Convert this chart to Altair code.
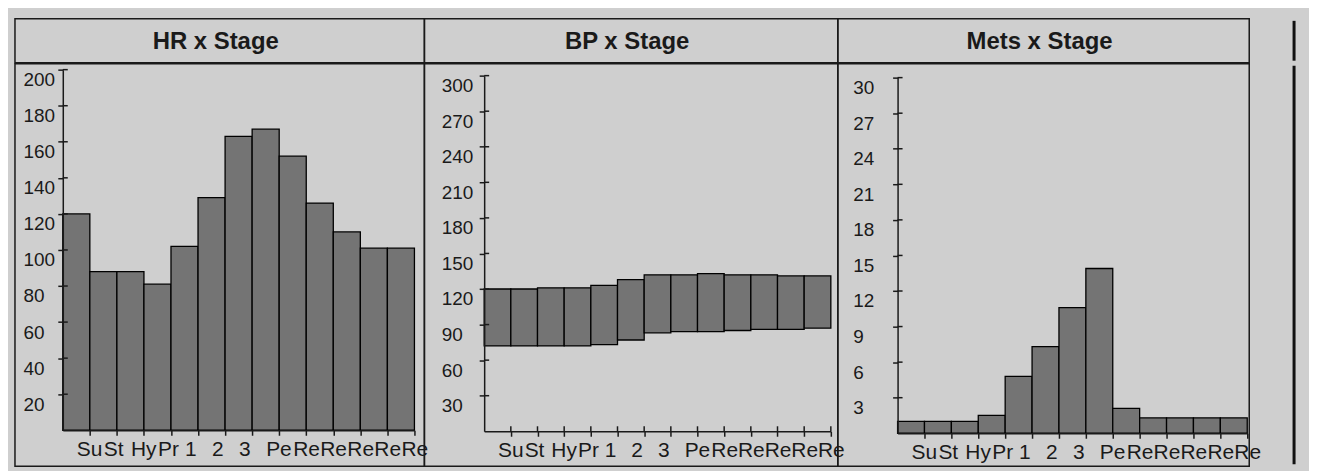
import json
import altair as alt
import pandas as pd

# ---------------- data ----------------
stages = ["Su", "St", "Hy", "Pr", "1", "2", "3", "Pe", "Re", "Re", "Re", "Re", "Re"]
titles = ["HR x Stage", "BP x Stage", "Mets x Stage"]
hr = [120, 88, 88, 81, 102, 129, 163, 167, 152, 126, 110, 101, 101]
bp_high = [120, 120, 121, 121, 123, 128, 132, 132, 133, 132, 132, 131, 131]
bp_low = [72, 72, 72, 72, 73, 77, 83, 84, 84, 85, 86, 86, 87]
mets = [1.0, 1.0, 1.0, 1.5, 4.8, 7.3, 10.6, 13.9, 2.1, 1.3, 1.3, 1.3, 1.3]
hr_ticks = [20, 40, 60, 80, 100, 120, 140, 160, 180, 200]
bp_ticks = [30, 60, 90, 120, 150, 180, 210, 240, 270, 300]
mets_ticks = [3, 6, 9, 12, 15, 18, 21, 24, 27, 30]

# ---------------- style ----------------
FONT = "Liberation Sans"
INK = "#1a1a1a"
BAR = "#747474"
BG = "#cfcfcf"
HEAD_H = 44
PLOT_H = 404
EDGE_W = 60

n = len(stages)
x_ticks = list(range(1, n + 1))
label_expr = json.dumps(stages) + "[datum.value - 1]"


def make_plot(df, yfield, y2field, ymax, yticks, pw, ax, xend, ytop, yzero, cross_x, ylab_gap):
    xs = alt.Scale(domain=[0, n], range=[ax, xend], nice=False, zero=False)
    ys = alt.Scale(domain=[0, ymax], range=[yzero, ytop], nice=False, zero=False)
    bar_w = (xend - ax) / n

    x_axis = alt.Axis(
        values=x_ticks, labelExpr=label_expr, orient="bottom", offset=-(PLOT_H - yzero),
        grid=False, title=None, domain=True, ticks=True, domainColor=INK, domainWidth=1.5,
        tickColor=INK, tickWidth=1.5, tickSize=5, labelFont=FONT, labelFontSize=21,
        labelColor=INK, labelPadding=3, labelBaseline="top", labelAlign="left",
        labelOffset=-bar_w / 2, labelFlush=False, labelOverlap=False, zindex=1,
    )
    y_axis = alt.Axis(
        values=yticks, orient="left", offset=-ax, grid=False, title=None, domain=True,
        ticks=True, domainColor=INK, domainWidth=1.5, tickColor=INK, tickWidth=1.5,
        tickSize=5, labelFont=FONT, labelFontSize=19, labelColor=INK,
        labelPadding=ylab_gap - 5, labelAlign="left", labelBaseline="top", labelOffset=1,
        labelFlush=False, labelOverlap=False, zindex=1,
    )

    enc = dict(
        x=alt.X("x0:Q", scale=xs, axis=x_axis),
        x2="x1:Q",
        y=alt.Y(yfield + ":Q", scale=ys, axis=y_axis),
    )
    if y2field:
        enc["y2"] = y2field + ":Q"
    else:
        enc["y2"] = alt.datum(0)
    bars = alt.Chart(df).mark_rect(fill=BAR, stroke="black", strokeWidth=1.3).encode(**enc)

    ytick_df = pd.DataFrame({"t": yticks})
    yrules = alt.Chart(ytick_df).mark_rule(color=INK, strokeWidth=1.5).encode(
        y=alt.Y("t:Q", scale=ys, axis=None),
        x=alt.value(ax),
        x2=alt.value(ax + 5),
    )
    layers = [bars, yrules]
    if cross_x:
        xtick_df = pd.DataFrame({"t": x_ticks})
        xrules = alt.Chart(xtick_df).mark_rule(color=INK, strokeWidth=1.5).encode(
            x=alt.X("t:Q", scale=xs, axis=None),
            y=alt.value(yzero - 5),
            y2=alt.value(yzero),
        )
        layers.append(xrules)
    return alt.layer(*layers).resolve_axis(x="independent", y="independent").properties(
        width=pw, height=PLOT_H
    )


def make_header(title, pw):
    return alt.Chart(pd.DataFrame({"t": [title]})).mark_text(
        font=FONT, fontSize=24, fontWeight="bold", color=INK
    ).encode(
        text="t:N", x=alt.value(pw / 2 - 4), y=alt.value(HEAD_H / 2 + 1)
    ).properties(width=pw, height=HEAD_H)


def make_edge(h, y0, y1):
    # edge of the neighbouring sheet visible at the right of the photo
    return alt.Chart(pd.DataFrame({"k": [0]})).mark_rule(color="#111111", strokeWidth=3).encode(
        x=alt.value(45), y=alt.value(y0), y2=alt.value(y1)
    ).properties(width=EDGE_W, height=h, view=alt.ViewBackground(stroke=None))


idx = list(range(n))
hr_df = pd.DataFrame({"x0": idx, "x1": [i + 1 for i in idx], "v": hr})
bp_df = pd.DataFrame({"x0": idx, "x1": [i + 1 for i in idx], "hi": bp_high, "lo": bp_low})
mets_df = pd.DataFrame({"x0": idx, "x1": [i + 1 for i in idx], "v": mets})

widths = [411, 415, 413]
pl1 = make_plot(hr_df, "v", None, 200, hr_ticks, widths[0], 48, 401, 6, 368, False, 40)
pl2 = make_plot(bp_df, "hi", "lo", 300, bp_ticks, widths[1], 60, 408, 12, 369, True, 43)
pl3 = make_plot(mets_df, "v", None, 30, mets_ticks, widths[2], 60, 411, 14, 371, False, 45)

top = alt.hconcat(
    *[make_header(t, w) for t, w in zip(titles, widths)],
    make_edge(HEAD_H, 2, HEAD_H - 2),
    spacing=0, bounds="flush",
)
bottom = alt.hconcat(pl1, pl2, pl3, make_edge(PLOT_H, 2, PLOT_H - 2), spacing=0, bounds="flush")

chart = alt.vconcat(top, bottom, spacing=-1.5).configure_view(
    stroke=INK, strokeWidth=1.5
).properties(
    background=BG,
    padding={"left": 6, "top": 9, "right": 0, "bottom": 3},
)

chart.save("out.html", embed_options={"renderer": "svg", "actions": False})
